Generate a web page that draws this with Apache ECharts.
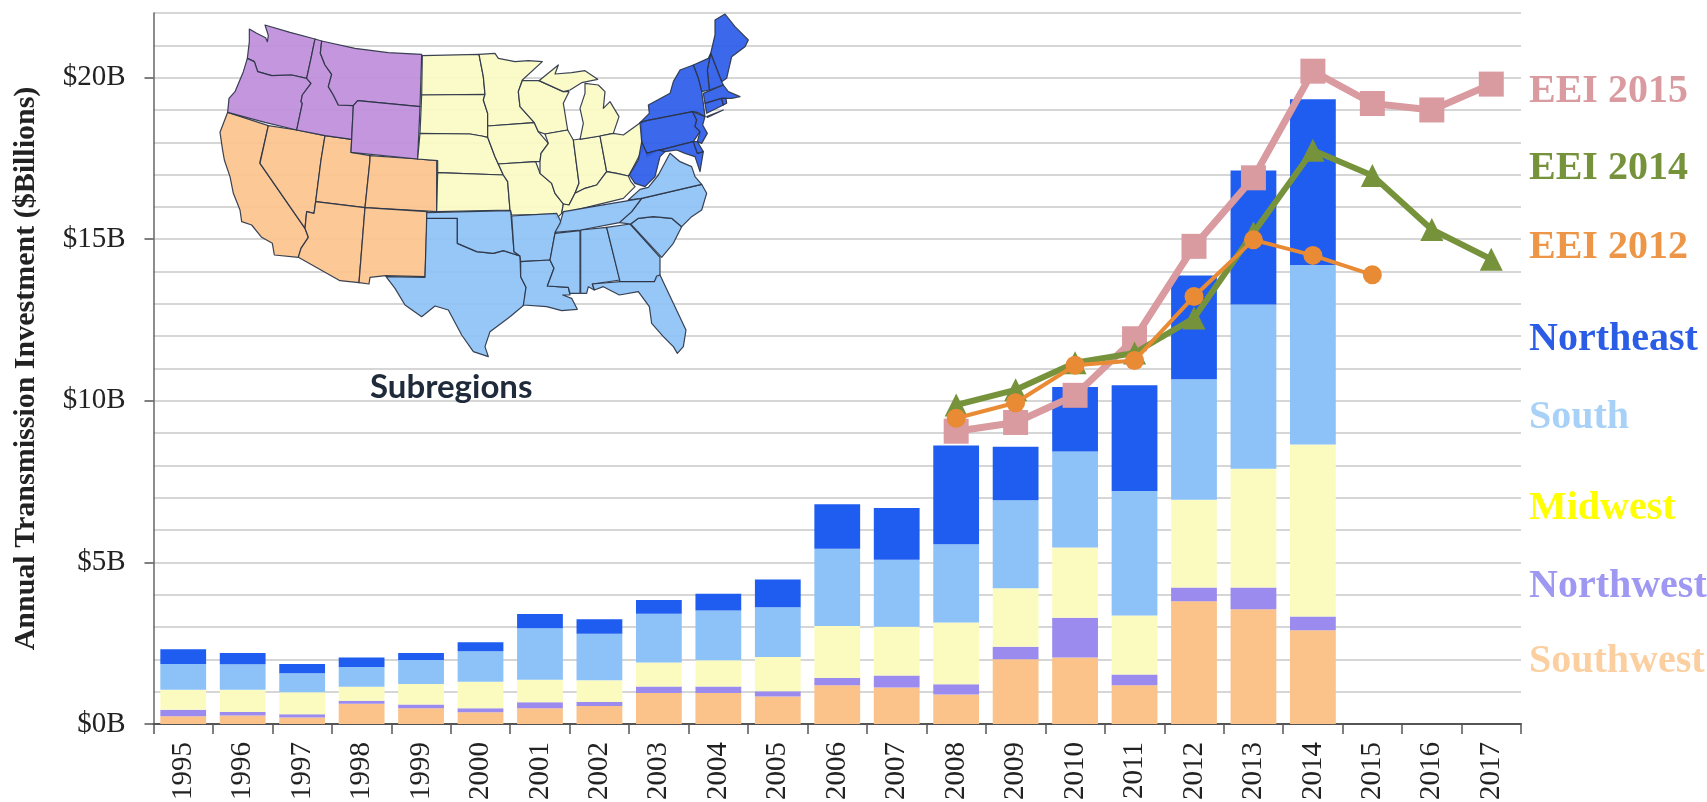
<!DOCTYPE html>
<html><head><meta charset="utf-8">
<style>html,body{margin:0;padding:0;background:#fff}#c{width:1707px;height:802px}</style>
<script src="https://cdn.jsdelivr.net/npm/echarts@6/dist/echarts.min.js"></script>
</head><body><div id="c"></div>
<script>
const years = ['1995','1996','1997','1998','1999','2000','2001','2002','2003','2004','2005','2006','2007','2008','2009','2010','2011','2012','2013','2014','2015','2016','2017'];
// Stack segment values ($B)
const southwest = [0.24,0.26,0.20,0.63,0.49,0.36,0.49,0.56,0.96,0.96,0.85,1.20,1.13,0.91,2.00,2.06,1.20,3.80,3.55,2.90,null,null,null];
const northwest = [0.20,0.11,0.10,0.09,0.11,0.13,0.18,0.12,0.20,0.20,0.16,0.22,0.37,0.32,0.39,1.23,0.33,0.42,0.67,0.43,null,null,null];
const midwest   = [0.62,0.69,0.68,0.43,0.64,0.82,0.70,0.67,0.74,0.81,1.06,1.61,1.51,1.91,1.81,2.17,1.83,2.72,3.68,5.32,null,null,null];
const south     = [0.80,0.79,0.59,0.61,0.74,0.94,1.59,1.44,1.51,1.54,1.54,2.39,2.07,2.42,2.72,2.97,3.85,3.73,5.08,5.55,null,null,null];
const northeast = [0.45,0.35,0.29,0.30,0.22,0.28,0.44,0.45,0.43,0.52,0.86,1.38,1.60,3.06,1.66,2.00,3.27,3.21,4.15,5.13,null,null,null];
const eei2015 = [null,null,null,null,null,null,null,null,null,null,null,null,null,9.06,9.33,10.17,11.92,14.78,16.9,20.2,19.2,19.0,19.8];
const eei2014 = [null,null,null,null,null,null,null,null,null,null,null,null,null,9.87,10.34,11.18,11.48,12.56,15.2,17.75,16.97,15.3,14.38];
const eei2012 = [null,null,null,null,null,null,null,null,null,null,null,null,null,9.46,9.94,11.1,11.25,13.23,14.98,14.5,13.9,null,null];
const yTicks = [0,5,10,15,20];
const sideLabels = ['EEI 2015','EEI 2014','EEI 2012','Northeast','South','Midwest','Northwest','Southwest'];

const crop=(x0,y0)=>(...a)=>{const r=[];for(let i=0;i<a.length;i+=2)r.push([x0+a[i]/3,y0+a[i+1]/3]);return r;};
const z5=crop(215,15),z6=crop(215,160),z7=crop(415,50),z8=crop(380,200),z9=crop(560,150),z10=crop(620,10);
const mapNorthwest=[
 z5(103,42,125,55,152,68,157,80,160,62,150,30,225,52,300,72,288,130,275,190,230,180,170,182,128,170,118,140,97,130,103,80),
 z5(97,130,118,140,128,170,170,182,230,180,275,190,288,205,262,240,258,260,262,265,245,345,150,322,38,292,42,250,60,230,85,170),
 z5(300,72,320,78,316,115,330,150,350,178,340,215,355,240,370,270,415,272,410,373,330,362,245,345,262,265,258,260,262,240,288,205,275,190,288,130),
 z5(320,78,420,100,520,113,620,118,615,275,428,257,415,272,370,270,355,240,340,215,350,178,330,150,316,115),
 z5(428,257,615,275,608,432,408,412,415,272)];
const mapSouthwest=[
 [...z5(38,292,160,332,135,440),...z6(135,10,270,205,280,232,258,265,250,292,178,285,172,250,140,232,110,195,80,185,75,150,55,100,45,50,28,0),...z5(22,400,15,352)],
 [...z5(160,332,245,345,330,362,318,435),...z6(318,0,302,125,297,160,275,155,270,205,135,10)],
 [...z5(330,362,410,373,408,412,465,422),...z6(465,0,450,143,302,125,318,0)],
 [...z5(465,422,608,432,668,437),...z6(665,0,665,155,450,143,465,0)],
 z6(302,125,450,143,432,368,375,362,250,292,258,265,280,232,270,205,275,155,297,160),
 z6(450,143,637,155,630,350,512,347,465,352,462,372,432,368)];
const mapMidwest=[
 z7(22,17,192,13,205,80,210,133,20,135),
 z7(20,135,210,133,205,150,218,190,218,262,200,258,165,252,15,250),
 z7(15,250,165,252,200,258,218,262,240,320,265,375,68,368,68,332,8,327),
 z7(68,368,265,375,278,395,285,480,65,485),
 z7(192,13,240,10,250,25,300,35,340,32,382,35,322,90,310,125,315,170,358,218,218,228,218,190,205,150,210,133,205,80),
 z7(218,228,358,218,370,245,400,280,378,310,375,335,362,335,250,342,240,320,218,262),
 z7(250,342,362,335,375,370,410,400,420,430,445,462,440,490,425,505,420,492,290,495,285,480,278,395,265,375),
 z7(322,92,372,92,445,125,462,125,445,160,458,240,390,252,370,245,358,218,315,170,310,125),
 z7(390,252,458,240,475,270,492,400,480,430,462,465,445,462,420,430,410,400,375,370,375,335,378,310,400,280),
 z7(475,270,555,258,575,365,545,405,510,415,480,430,492,400),
 z7(372,92,430,45,420,72,470,68,510,62,548,88,500,98,465,120,445,125),
 z7(510,100,550,105,570,125,565,175,585,155,612,200,595,250,555,258,495,268,505,220,495,175,510,130),
 z7(555,258,595,250,625,255,680,215,682,300,645,370,640,378,605,370,575,365),
 z7(480,430,510,415,545,405,575,365,605,370,640,378,648,395,660,410,625,445,490,478,440,490,445,462,462,465)];
const mapSouth=[
 z8(140,55,232,55,232,130,290,155,340,160,370,152,420,168,422,230,438,262,432,315,390,350,330,395,315,440,325,470,280,455,245,405,205,330,165,318,125,350,75,315,45,265,18,230,135,232),
 z8(140,38,392,32,402,155,420,168,370,152,340,160,290,155,232,130,232,55,140,55),
 z8(395,48,530,40,545,70,525,100,510,180,422,185,420,168,402,155),
 z8(422,185,510,180,522,205,502,258,565,262,570,285,548,285,575,295,592,328,545,332,500,320,430,315,438,262,422,230),
 z8(525,100,600,92,600,280,570,280,565,262,502,258,522,205,510,180),
 z9(62,240,140,232,180,390,97,402,103,420,85,410,80,430,62,430),
 z9(140,232,210,222,300,322,300,375,283,395,180,395),
 z9(97,402,180,395,283,395,290,378,300,375,340,460,378,540,370,590,352,610,340,590,310,560,275,520,268,470,235,425,178,435,130,410,103,420),
 z9(212,222,235,205,280,200,335,205,365,230,340,280,305,322),
 z9(245,145,425,103,440,130,425,180,395,200,365,230,335,205,280,200,235,205,212,222,178,218,215,185),
 z9(205,150,240,118,265,112,295,75,330,10,360,35,395,50,405,80,425,103,245,145),
 [...z8(525,97,540,70,550,35),...z9(50,178,245,145,215,185,178,218,62,240)]];
const mapNortheast=[
 z10(285,30,315,12,345,50,385,90,375,110,335,140,320,205,305,215,272,130,285,75),
 z10(272,130,305,215,310,225,268,240,262,180),
 z10(220,165,265,145,272,130,262,180,268,240,245,245,235,205),
 z10(180,180,220,165,235,205,245,245,250,280,255,320,235,308,218,305,80,332,60,338,88,310,85,285,150,250,160,215),
 z10(250,250,310,225,325,245,360,260,335,265,305,265,255,280),
 z10(255,280,305,265,310,285,260,310),
 z10(305,265,318,265,320,280,310,285),
 z10(260,320,310,300,262,322),
 z10(60,338,80,332,218,305,230,330,225,350,240,365,220,395,80,430,65,395),
 z10(218,305,255,320,248,345,262,370,245,400,232,395,240,365,225,350,230,330),
 z10(80,430,220,395,232,430,250,425,240,485,225,440,195,430,170,420,135,425,115,420,80,440),
 z10(220,395,232,395,250,425,232,430),
 z10(65,395,80,430,115,420,135,425,120,440,105,500,75,530,45,520,28,495,55,450)];

const serif="'Liberation Serif','Times New Roman',serif";
const colors={sw:'#FBC289',nw:'#9B8BEE',mw:'#FBFBC0',s:'#8CC2F7',ne:'#1F5CF0'};
const bar=(name,data,color)=>({name,type:'bar',stack:'total',data,barCategoryGap:'23%',itemStyle:{color},z:2});
const line=(name,data,color,symbol,size,width,z)=>({name,type:'line',data,symbol,symbolSize:size,connectNulls:false,
  lineStyle:{color,width},itemStyle:{color},z});
const poly=(list,fill)=>list.map(points=>({type:'polygon',shape:{points},z:50,
  style:{fill,opacity:0.93,stroke:'#2c3547',lineWidth:1.2,lineJoin:'round'}}));
const side=(i,y,fill)=>({type:'text',x:1529,y,z:60,style:{text:sideLabels[i],fill,font:"bold 40px "+serif,textVerticalAlign:'middle'}});

const chart=echarts.init(document.getElementById('c'),null,{renderer:'canvas'});
chart.setOption({
  animation:false,backgroundColor:'#fff',
  grid:{left:153.5,right:186,top:13,bottom:78,containLabel:false,outerBoundsMode:'none'},
  xAxis:{type:'category',data:years,boundaryGap:true,
    axisLine:{lineStyle:{color:'#555',width:2}},
    axisTick:{show:true,length:10,lineStyle:{color:'#555',width:1.5},alignWithLabel:false,interval:0},
    axisLabel:{rotate:90,interval:0,fontFamily:serif,fontSize:29,color:'#222',margin:18}},
  yAxis:[
    {type:'value',min:0,max:22,interval:1,
     axisLine:{show:false},axisTick:{show:false},axisLabel:{show:false},
     splitLine:{show:true,lineStyle:{color:'#c9c9c9',width:1.5}}},
    {type:'value',min:0,max:22,interval:1,position:'left',
     name:'Annual Transmission Investment ($Billions)',nameLocation:'middle',nameGap:112,
     nameTextStyle:{fontFamily:serif,fontWeight:'bold',fontSize:30,color:'#222'},
     axisLine:{show:true,onZero:false,lineStyle:{color:'#666',width:1.5}},
     axisTick:{show:true,length:9,customValues:yTicks,lineStyle:{color:'#555',width:1.5}},
     axisLabel:{customValues:yTicks,formatter:v=>'$'+v+'B',fontFamily:serif,fontSize:29,color:'#222',margin:28},
     splitLine:{show:false}}],
  series:[
    bar('Southwest',southwest,colors.sw),
    bar('Northwest',northwest,colors.nw),
    bar('Midwest',midwest,colors.mw),
    bar('South',south,colors.s),
    bar('Northeast',northeast,colors.ne),
    line('EEI 2015',eei2015,'#D99AA0','rect',25,7,5),
    line('EEI 2014',eei2014,'#76933C','triangle',23,6,6),
    line('EEI 2012',eei2012,'#E98A35','circle',19,4,7)
  ],
  graphic:[
    ...poly(mapSouthwest,'#FBC48E'),
    ...poly(mapNorthwest,'#C08EDC'),
    ...poly(mapMidwest,'#FBFBC6'),
    ...poly(mapSouth,'#8FC3F5'),
    ...poly(mapNortheast,'#2D5CEB'),
    {type:'text',x:370,y:387,z:60,style:{text:'Subregions',fill:'#1f2a3a',font:"bold 33px Lato,'Open Sans',sans-serif",textVerticalAlign:'middle'}},
    side(0,92,'#D99AA0'),side(1,169,'#76933C'),side(2,248,'#EE9648'),side(3,340,'#2B5CE6'),
    side(4,418,'#A8D1F7'),side(5,509,'#FFFF00'),side(6,587,'#9E98F2'),side(7,662,'#FBCFA0')
  ]
});
</script></body></html>
